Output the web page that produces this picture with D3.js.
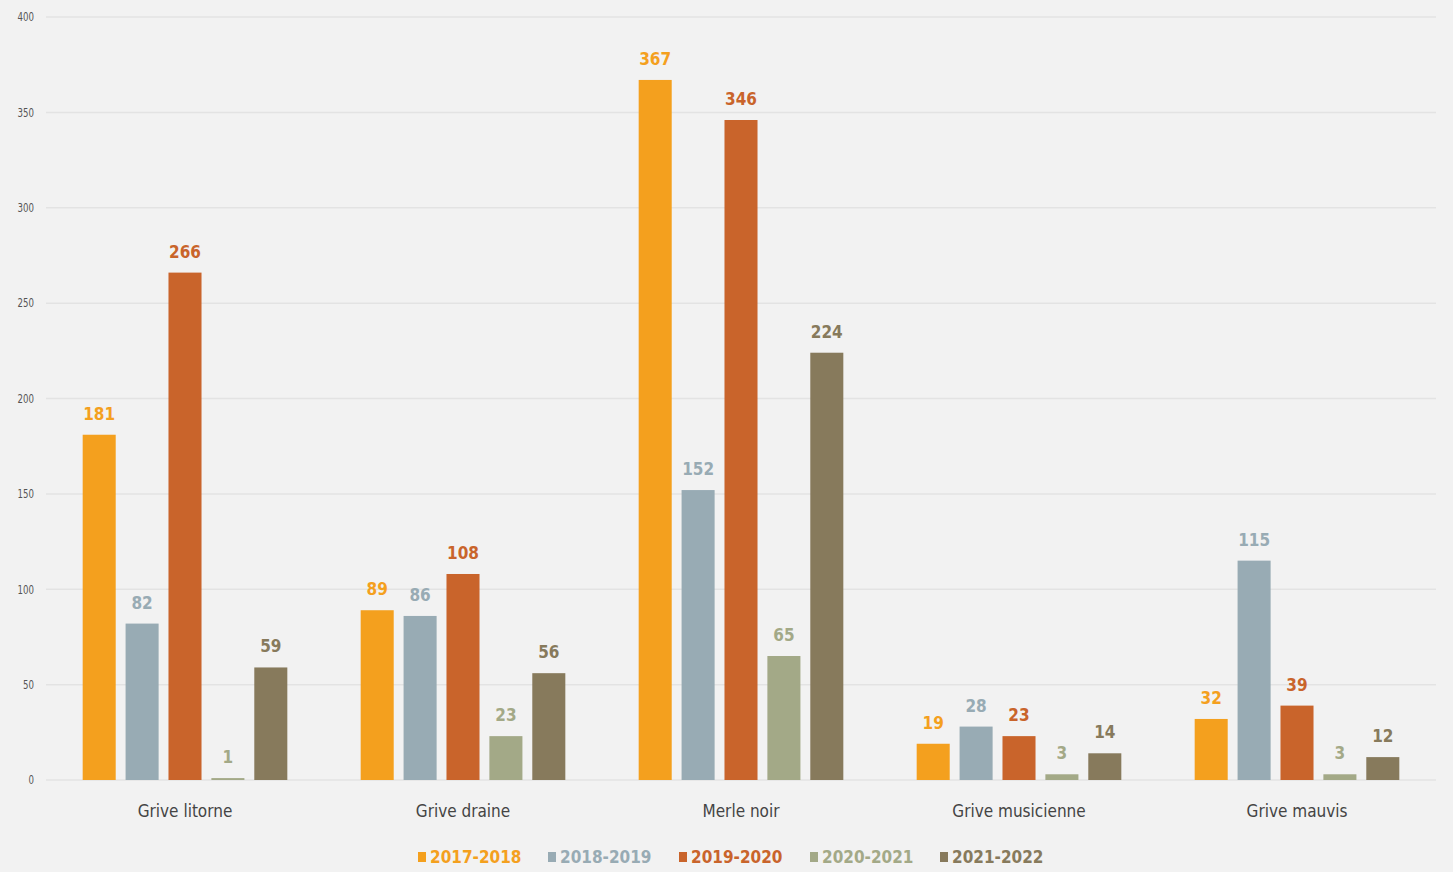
<!DOCTYPE html>
<html>
<head>
<meta charset="utf-8">
<script src="https://cdn.jsdelivr.net/npm/d3@7"></script>
<style>
  html, body { margin: 0; padding: 0; background: #f2f2f2; }
  svg { display: block; }
</style>
</head>
<body>
<svg id="chart" width="1453" height="872"></svg>
<script>
// Thrush counts by species and season
const categories = ["Grive litorne", "Grive draine", "Merle noir", "Grive musicienne", "Grive mauvis"];
const seasons = ["2017-2018", "2018-2019", "2019-2020", "2020-2021", "2021-2022"];
const values2017 = [181, 89, 367, 19, 32];
const values2018 = [82, 86, 152, 28, 115];
const values2019 = [266, 108, 346, 23, 39];
const values2020 = [1, 23, 65, 3, 3];
const values2021 = [59, 56, 224, 14, 12];
const yTicks = [0, 50, 100, 150, 200, 250, 300, 350, 400];
const colors = ["#f4a01e", "#98abb4", "#c9642b", "#a3a987", "#877a5c"];

const seriesValues = [values2017, values2018, values2019, values2020, values2021];

const svg = d3.select("#chart");
const fontFam = "'DejaVu Sans Condensed', 'DejaVu Sans', sans-serif";

const plotLeft = 46, plotRight = 1436, plotTop = 17, plotBottom = 780;

const x0 = d3.scaleBand().domain(categories).range([plotLeft, plotRight]).padding(0);
const x1 = d3.scaleBand().domain(seasons).range([0, x0.bandwidth()])
  .paddingInner(0.23).paddingOuter(0.855);
const y = d3.scaleLinear().domain([0, 400]).range([plotBottom, plotTop]);

// Grid lines
svg.append("g").selectAll("line").data(yTicks).join("line")
  .attr("x1", plotLeft).attr("x2", plotRight)
  .attr("y1", d => y(d)).attr("y2", d => y(d))
  .attr("stroke", "#e3e3e3").attr("stroke-width", 1.5);

// Y axis labels
const yAxis = d3.axisLeft(y).tickValues(yTicks).tickSize(0).tickPadding(0);
const gy = svg.append("g").attr("transform", `translate(34,0)`).call(yAxis);
gy.select(".domain").remove();
gy.selectAll("text")
  .attr("font-family", fontFam).attr("font-size", 12)
  .attr("fill", "#555").attr("transform", "scale(0.8,1)")
  .attr("x", 0);

// Bars and value labels
const groups = svg.append("g").selectAll("g").data(categories).join("g")
  .attr("transform", d => `translate(${x0(d)},0)`);

groups.each(function(cat, ci) {
  const g = d3.select(this);
  seasons.forEach((s, si) => {
    const v = seriesValues[si][ci];
    g.append("rect")
      .attr("x", x1(s)).attr("width", x1.bandwidth())
      .attr("y", y(v)).attr("height", y(0) - y(v))
      .attr("fill", colors[si]);
    g.append("text")
      .attr("x", x1(s) + x1.bandwidth() / 2)
      .attr("y", y(v) - 15)
      .attr("text-anchor", "middle")
      .attr("font-family", fontFam).attr("font-size", 17).attr("font-weight", "bold")
      .attr("fill", colors[si])
      .text(v);
  });
});

// Category axis
const xAxis = d3.axisBottom(x0).tickSize(0).tickPadding(0);
const gx = svg.append("g").attr("transform", `translate(0,${plotBottom + 27})`).call(xAxis);
gx.select(".domain").remove();
gx.selectAll("text")
  .attr("font-family", fontFam).attr("font-size", 17)
  .attr("fill", "#444").attr("dy", "0.6em");

// Legend
const legendX = [418, 548, 679, 810, 940];
const legend = svg.append("g").selectAll("g").data(seasons).join("g")
  .attr("transform", (d, i) => `translate(${legendX[i]},857)`);
legend.append("rect").attr("x", 0).attr("y", -5).attr("width", 8).attr("height", 10)
  .attr("fill", (d, i) => colors[i]);
legend.append("text").attr("x", 12).attr("y", 0).attr("dy", "0.36em")
  .attr("font-family", fontFam).attr("font-size", 17).attr("font-weight", "bold")
  .attr("fill", (d, i) => colors[i])
  .text(d => d);
</script>
</body>
</html>
